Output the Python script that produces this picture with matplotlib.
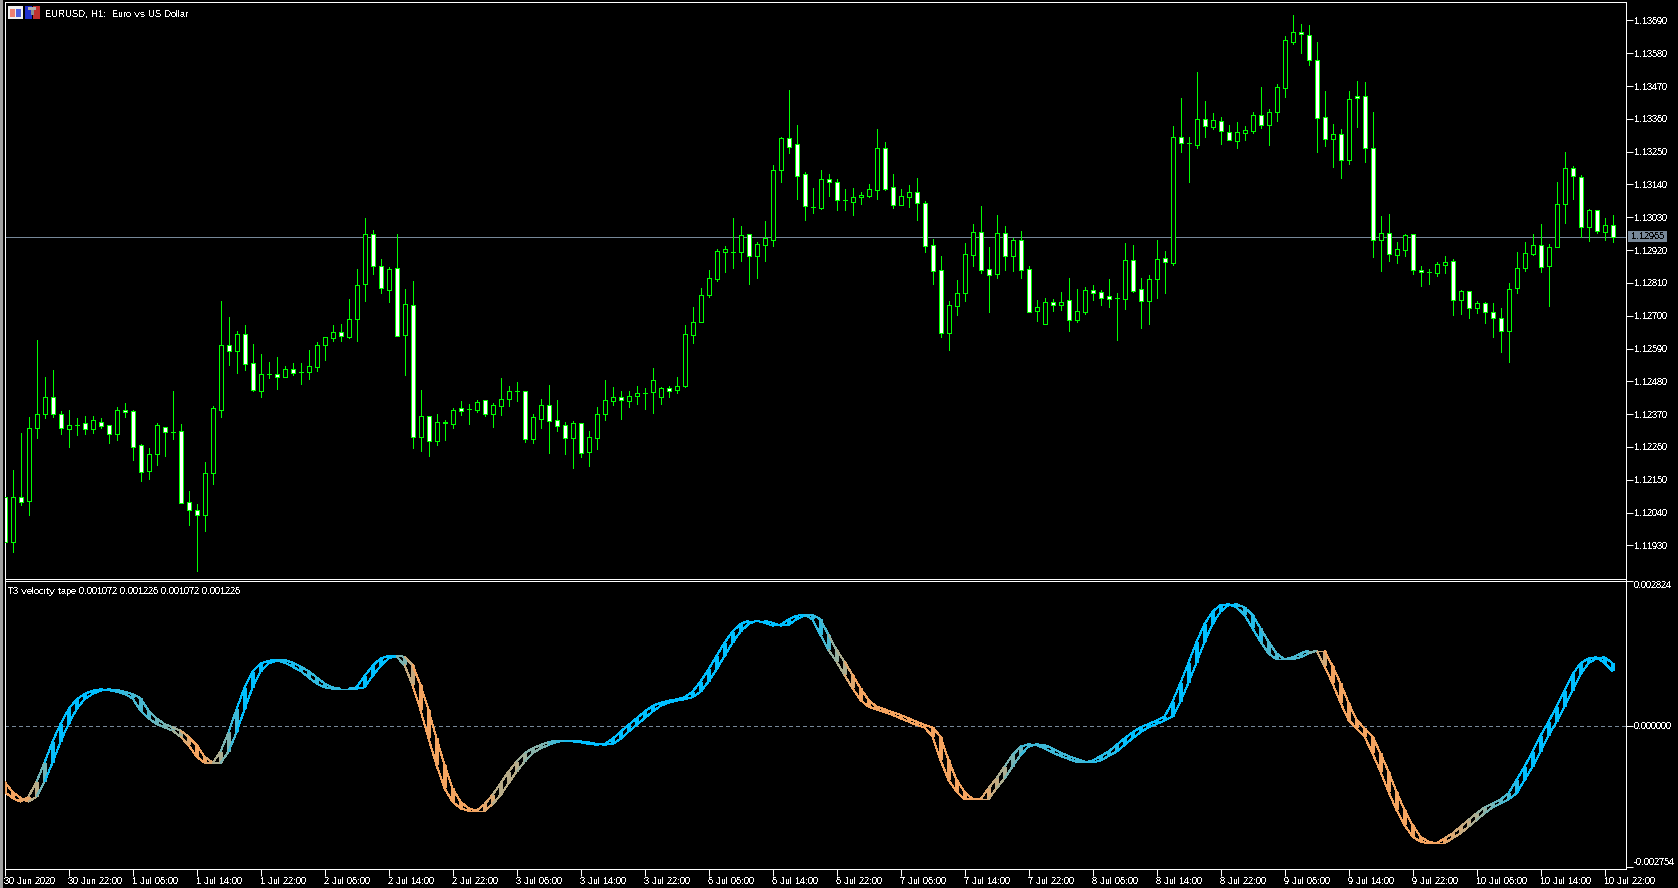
#!/usr/bin/env python3
import matplotlib
matplotlib.use("Agg")
import matplotlib.pyplot as plt
from matplotlib.collections import LineCollection
from matplotlib.patches import Rectangle
from matplotlib.colors import to_rgb

# ---------------------------------------------------------------------------
# DATA : EURUSD H1, prices in points (1e-5)
# ---------------------------------------------------------------------------
opens = [112091,111942,112091,112079,112324,112369,112429,112372,112321,112335,
112339,112321,112345,112335,112304,112385,112379,112265,112180,112237,
112328,112311,112312,112074,112050,112032,112173,112384,112603,112582,
112640,112543,112448,112506,112506,112495,112520,112511,112512,112528,
112602,112626,112647,112629,112689,112806,112974,112866,112786,112860,
112635,112736,112293,112363,112280,112345,112337,112389,112388,112384,
112416,112371,112398,112421,112448,112446,112287,112354,112399,112349,
112335,112290,112339,112244,112290,112371,112414,112429,112414,112431,
112442,112445,112428,112456,112451,112465,112636,112679,112769,112823,
112913,112913,112913,112974,112900,112937,112953,113188,113295,113275,
113175,113064,113061,113158,113148,113088,113081,113098,113101,113121,
113262,113131,113071,113098,113114,113078,112937,112853,112642,112732,
112776,112903,112980,112856,112840,112977,112900,112953,112856,112715,
112672,112746,112736,112752,112685,112712,112786,112779,112766,112759,
112756,112886,112789,112749,112823,112893,112876,113299,113279,113272,
113359,113332,113352,113316,113285,113312,113319,113372,113339,113383,
113463,113617,113651,113641,113557,113366,113292,113309,113222,113436,
113436,113262,112953,112977,112903,112920,112974,112853,112846,112843,
112870,112883,112752,112783,112726,112742,112712,112692,112648,112793,
112860,112907,112937,112866,112930,113074,113195,113165,112997,113054,
112980,113004]
highs = [112091,112184,112308,112360,112618,112494,112517,112380,112385,112356,
112363,112363,112356,112335,112393,112407,112385,112269,112258,112339,
112328,112447,112336,112112,112068,112209,112397,112749,112695,112648,
112668,112604,112571,112544,112561,112531,112541,112541,112584,112611,
112627,112668,112671,112755,112856,113027,112987,112890,112863,112974,
112789,112816,112451,112363,112369,112350,112389,112413,112403,112417,
112416,112407,112490,112464,112477,112446,112370,112420,112467,112417,
112343,112346,112339,112313,112393,112484,112460,112447,112447,112464,
112457,112524,112460,112464,112494,112668,112728,112792,112853,112923,
112933,113027,113000,112974,112947,113017,113205,113299,113456,113339,
113181,113128,113188,113175,113158,113124,113128,113114,113141,113326,
113282,113175,113124,113138,113161,113084,112957,112900,112749,112819,
112943,113007,113067,112930,113037,113000,112960,112984,112866,112752,
112759,112756,112779,112826,112789,112796,112803,112786,112823,112776,
112943,112937,112826,112836,112953,112917,113336,113429,113299,113517,
113419,113379,113366,113339,113349,113336,113383,113466,113393,113476,
113637,113708,113678,113674,113617,113453,113342,113326,113453,113486,
113483,113383,113034,113041,112947,112974,112974,112866,112856,112880,
112900,112890,112786,112783,112749,112746,112742,112726,112809,112913,
112947,112974,113007,112940,113148,113248,113202,113171,113057,113054,
113027,113037]
lows = [111917,111907,112065,112031,112289,112356,112360,112303,112259,112299,
112303,112306,112323,112273,112283,112360,112216,112145,112152,112199,
112229,112286,112073,111998,111844,111978,112135,112360,112534,112507,
112517,112447,112427,112490,112454,112495,112501,112470,112487,112514,
112551,112614,112614,112625,112614,112749,112840,112776,112746,112632,
112501,112256,112246,112230,112266,112283,112323,112366,112336,112377,
112363,112326,112366,112397,112413,112276,112273,112323,112239,112313,
112236,112189,112226,112195,112252,112350,112400,112353,112393,112403,
112387,112373,112403,112427,112440,112460,112608,112679,112762,112816,
112846,112860,112883,112806,112826,112883,112933,113148,113245,113091,
113021,113044,113057,113101,113054,113054,113037,113074,113098,113091,
113121,113061,113071,113064,113021,112913,112806,112628,112585,112702,
112749,112866,112843,112712,112826,112853,112850,112826,112712,112682,
112672,112715,112719,112648,112679,112705,112752,112736,112729,112618,
112722,112779,112658,112672,112759,112776,112870,113248,113148,113262,
113299,113326,113275,113289,113262,113289,113312,113329,113272,113352,
113433,113610,113580,113540,113248,113269,113198,113161,113208,113332,
113215,112896,112850,112883,112876,112900,112840,112799,112806,112833,
112843,112702,112705,112692,112709,112675,112628,112578,112545,112776,
112850,112903,112846,112732,112930,113010,113091,112964,112950,112977,
112953,112947]
closes = [111942,112091,112076,112325,112372,112429,112371,112324,112335,112335,
112321,112349,112331,112304,112385,112378,112260,112177,112238,112332,
112311,112311,112073,112049,112032,112174,112389,112603,112582,112640,
112539,112451,112506,112506,112495,112520,112508,112511,112530,112603,
112627,112647,112633,112690,112804,112974,112866,112793,112856,112632,
112739,112293,112364,112280,112342,112339,112385,112381,112388,112412,
112371,112399,112422,112449,112448,112287,112359,112399,112347,112331,
112290,112339,112240,112292,112372,112416,112429,112416,112432,112442,
112442,112483,112456,112449,112463,112637,112680,112771,112826,112917,
112923,112913,112970,112900,112940,112960,113188,113295,113265,113168,
113067,113064,113158,113148,113088,113088,113098,113104,113124,113262,
113124,113071,113101,113114,113078,112933,112850,112642,112736,112776,
112907,112980,112853,112836,112977,112900,112953,112853,112712,112729,
112746,112736,112746,112685,112715,112786,112776,112759,112756,112759,
112886,112783,112749,112823,112890,112880,113299,113279,113279,113359,
113336,113356,113319,113289,113316,113322,113372,113339,113383,113466,
113624,113651,113644,113557,113362,113292,113309,113222,113426,113429,
113262,112953,112977,112907,112923,112970,112853,112846,112846,112873,
112880,112752,112783,112726,112742,112712,112692,112648,112789,112860,
112910,112937,112863,112930,113074,113195,113168,112997,113054,112984,
113004,112965]

# T3 value of every bar, in 1e-6
t3_before = -1086
t3 = [-1281,-1404,-1476,-1378,-1086,-715,-306,39,325,520,
624,689,715,702,670,624,540,299,150,39,
-26,-91,-208,-371,-598,-715,-722,-501,-124,325,
748,1060,1216,1274,1287,1235,1157,1073,949,832,
754,728,728,728,754,975,1170,1320,1365,1352,
1190,800,312,-241,-761,-1216,-1476,-1606,-1651,-1651,
-1528,-1346,-1118,-891,-696,-533,-436,-371,-312,-286,
-293,-299,-319,-351,-364,-351,-254,-111,20,150,
280,390,455,494,520,559,670,865,1105,1365,
1625,1840,1989,2054,2054,2015,1957,1970,2080,2152,
2165,2080,1775,1482,1255,995,735,507,377,325,
267,215,150,85,20,-26,-208,-663,-1053,-1281,
-1424,-1430,-1430,-1216,-1021,-793,-566,-403,-358,-371,
-436,-520,-585,-644,-696,-709,-676,-585,-501,-371,
-241,-124,-26,39,104,182,475,845,1235,1638,
1989,2230,2360,2373,2314,2165,1905,1645,1417,1300,
1300,1339,1417,1469,1469,1170,832,455,117,-46,
-208,-533,-891,-1281,-1638,-1931,-2158,-2256,-2288,-2288,
-2191,-2093,-1963,-1833,-1703,-1586,-1508,-1430,-1313,-1053,
-793,-501,-189,85,377,689,1008,1222,1320,1339,
1226,1072]

# colour of the tape per bar, 0 = orange, 1 = blue
tape_mix = [0,0,0,.05,.25,.55,.95,1,1,1,
1,1,1,1,.9,.8,.75,.7,.7,.6,
.55,.5,.35,.1,0,0,.1,.3,.5,.75,
1,1,1,1,1,.9,.9,.9,.8,.8,
.8,.8,.8,.8,.85,1,1,1,1,1,
.5,.2,0,0,0,0,0,0,0,0,
.05,.1,.25,.25,.25,.35,.45,.45,.5,.7,
.8,.9,.95,1,1,1,1,1,1,1,
1,1,1,1,1,1,1,1,1,1,
1,1,1,1,1,1,1,1,1,1,
1,.85,.8,.7,.4,.3,.1,0,0,0,
0,0,0,0,0,0,0,0,0,0,
0,0,0,.1,.2,.3,.5,.6,.75,.75,
.75,.75,.75,.75,.75,.75,.8,.85,.85,.85,
.95,1,1,1,1,1,1,1,1,1,
1,1,1,1,1,.85,.85,.85,.7,.7,
.7,.7,.7,.7,.5,.15,0,0,0,0,
0,0,0,0,0,0,0,0,0,0,
0,.1,.15,.2,.3,.4,.5,.6,.7,.85,
1,1,1,1,1,1,1,1,1,1,
1,1]

price_ticks = [113690,113580,113470,113360,113250,113140,113030,112920,112810,
               112700,112590,112480,112370,112260,112150,112040,111930]
last_price = 112965
time_labels = ["30 Jun 2020","30 Jun 22:00","1 Jul 06:00","1 Jul 14:00","1 Jul 22:00",
               "2 Jul 06:00","2 Jul 14:00","2 Jul 22:00","3 Jul 06:00","3 Jul 14:00",
               "3 Jul 22:00","6 Jul 06:00","6 Jul 14:00","6 Jul 22:00","7 Jul 06:00",
               "7 Jul 14:00","7 Jul 22:00","8 Jul 06:00","8 Jul 14:00","8 Jul 22:00",
               "9 Jul 06:00","9 Jul 14:00","9 Jul 22:00","10 Jul 06:00","10 Jul 14:00",
               "10 Jul 22:00"]
tape_ticks = [0.002824, 0.0, -0.002754]
tape_tick_labels = ["0.002824", "0.000000", "-0.002754"]
# ---------------------------------------------------------------------------

# ---------------------------------------------------------------------------
# STYLE
# ---------------------------------------------------------------------------
W, H = 1678, 888
GREEN = "#00FF00"
SLATE = "#778899"
ORANGE = to_rgb("#F4A460")
BLUE = to_rgb("#00BFFF")
PX = 0.72

plt.rcParams["font.family"] = ["Liberation Sans", "DejaVu Sans"]
plt.rcParams["font.size"] = 6.7
plt.rcParams["text.antialiased"] = False
plt.rcParams["text.hinting"] = "native"
plt.rcParams["text.hinting_factor"] = 1

fig = plt.figure(figsize=(W / 100, H / 100), dpi=100, facecolor="black")


def panel(top, bottom):
    ax = fig.add_axes([4.5 / W, 1 - bottom / H, 1621 / W, (bottom - top) / H], facecolor="black")
    ax.set_xlim(0, 1621 / 8)
    for s in ax.spines.values():
        s.set_color("white")
        s.set_linewidth(PX)
    ax.yaxis.tick_right()
    ax.tick_params(axis="y", colors="white", length=5, width=PX, pad=1)
    return ax


def box(x, y, w, h, color):
    fig.add_artist(Rectangle((x / W, 1 - (y + h) / H), w / W, h / H, transform=fig.transFigure,
                             facecolor=color, edgecolor="none", antialiased=False))


# ---------------------------------------------------------------------------
# PRICE PANEL
# ---------------------------------------------------------------------------
ax = panel(2.5, 578.5)
ax.set_ylim(1.11819, 1.13750)
bars = list(range(len(closes)))
o = [v / 1e5 for v in opens]
c = [v / 1e5 for v in closes]
ax.axhline(last_price / 1e5, color=SLATE, lw=PX, antialiased=False, zorder=1)
ax.vlines(bars, [v / 1e5 for v in lows], [v / 1e5 for v in highs], color=GREEN, lw=PX,
          antialiased=False, zorder=2)
ax.bar(bars, [b - a for a, b in zip(o, c)], bottom=o, width=0.5,
       color=["black" if b >= a else "white" for a, b in zip(o, c)],
       edgecolor=GREEN, linewidth=PX, antialiased=False, zorder=3)
ax.set_xticks([])
ax.set_yticks([v / 1e5 for v in price_ticks])
ax.set_yticklabels(["%.5f" % (v / 1e5) for v in price_ticks])

# ---------------------------------------------------------------------------
# T3 PANEL
# ---------------------------------------------------------------------------
ax2 = panel(580.5, 868.5)
ax2.set_ylim(-0.002779, 0.002837)
ax2.axhline(0, color=SLATE, lw=PX, linestyle=(0, (4, 4)), antialiased=False, zorder=1)
values = [v / 1e6 for v in t3]
prev = [t3_before / 1e6] + values[:-1]
colors = [tuple(a + m * (b - a) for a, b in zip(ORANGE, BLUE)) for m in tape_mix]
columns = [[(k, prev[k]), (k, values[k])] for k in bars]
line_a = [[(k - 1, values[k - 1]), (k, values[k])] for k in bars[1:]]
line_b = [[(k - 1, prev[k - 1]), (k, prev[k])] for k in bars[1:]]
ax2.add_collection(LineCollection(columns, colors=colors, linewidths=4 * PX, capstyle="butt",
                                  antialiaseds=False, zorder=3))
ax2.add_collection(LineCollection(line_a + line_b, colors=colors[1:] * 2, linewidths=PX,
                                  antialiaseds=False, zorder=3))
ax2.set_yticks(tape_ticks)
ax2.set_yticklabels(tape_tick_labels)
labs = ax2.get_yticklabels()
labs[0].set_va("top")
labs[2].set_va("bottom")
ax2.set_xticks(bars[::8])
ax2.set_xticklabels(time_labels, ha="left")
ax2.tick_params(axis="x", colors="white", length=5, width=PX, pad=1)

# ---------------------------------------------------------------------------
# WINDOW BITS : left edge, icons, captions, last price box
# ---------------------------------------------------------------------------
box(0, 0, 2.5, H, "#A0A0A0")

# table icon
box(8, 6, 15, 13, "#F0F0F0")
box(10, 9, 5, 8, "#F08070")
box(16, 9, 5, 8, "#5060E0")
# tool icon
box(25, 6, 7, 13, "#2030D0")
box(33, 6, 7, 13, "#C03030")
box(28, 7, 8, 3, "#B0B0B0")
box(31, 10, 3, 5, "#909090")

fig.text(45 / W, 1 - 14 / H, "EURUSD, H1:  Euro vs US Dollar", color="white", va="center")
fig.text(8 / W, 1 - 591 / H, "T3 velocity tape 0.001072 0.001226 0.001072 0.001226",
         color="white", va="center")

box(1628, 231, 39, 11, SLATE)
fig.text(1631 / W, 1 - 236.5 / H, "%.5f" % (last_price / 1e5), color="black", va="center")

plt.savefig("out.png", dpi=100, facecolor="black")
